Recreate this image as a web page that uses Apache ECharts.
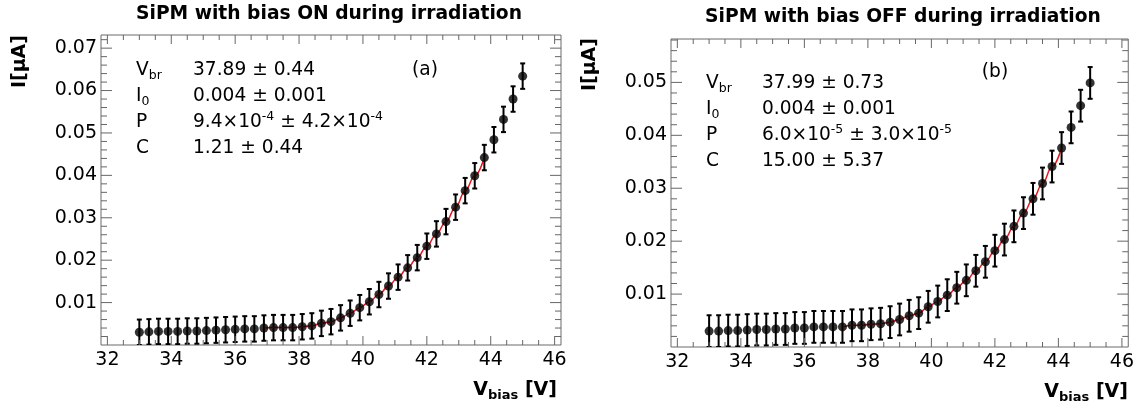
<!DOCTYPE html>
<html><head><meta charset="utf-8">
<script src="https://cdn.jsdelivr.net/npm/echarts@6/dist/echarts.min.js"></script>
<style>html,body{margin:0;padding:0;background:#fff}#c{width:1137px;height:409px}</style>
</head><body><div id="c"></div>
<script>
// ---------- data ----------
const vbias = [33.0,33.3,33.6,33.9,34.2,34.5,34.8,35.1,35.4,35.7,36.0,36.3,36.6,36.9,37.2,37.5,37.8,38.1,38.4,38.7,
  39.0,39.3,39.6,39.9,40.2,40.5,40.8,41.1,41.4,41.7,42.0,42.3,42.6,42.9,43.2,43.5,43.8,44.1,44.4,44.7,45.0];
const currentOn = [0.0030,0.0031,0.0032,0.0032,0.0032,0.0033,0.0033,0.0034,0.0035,0.0036,0.0037,0.0038,0.0038,0.0040,0.0041,
  0.0041,0.0041,0.0043,0.0045,0.0051,0.0055,0.0064,0.0075,0.0088,0.0102,0.0119,0.0139,0.0160,0.0182,0.0206,
  0.0233,0.0262,0.0291,0.0325,0.0364,0.0399,0.0442,0.0484,0.0532,0.0580,0.0634];
const currentOff = [0.0030,0.0030,0.0031,0.0031,0.0032,0.0033,0.0033,0.0034,0.0034,0.0036,0.0036,0.0038,0.0038,0.0038,0.0038,
  0.0041,0.0041,0.0043,0.0044,0.0047,0.0052,0.0059,0.0064,0.0076,0.0086,0.0098,0.0112,0.0126,0.0144,0.0161,
  0.0182,0.0203,0.0228,0.0253,0.0280,0.0309,0.0341,0.0376,0.0415,0.0456,0.0499];
const errOn = 0.003;
const errOff = 0.003;
const fitRangeOn = [13, 36];   // index range of points covered by the red fit
const fitRangeOff = [14, 37];
const xTickLabels = [32,34,36,38,40,42,44,46];
const yTickLabelsOn = [0.01,0.02,0.03,0.04,0.05,0.06,0.07];
const yTickLabelsOff = [0.01,0.02,0.03,0.04,0.05];
const titles = ['SiPM with bias ON during irradiation','SiPM with bias OFF during irradiation'];
const statsOn = [['V{sub|br}','37.89 ± 0.44'],['I{sub|0}','0.004 ± 0.001'],['P','9.4×10{sup|-4} ± 4.2×10{sup|-4}'],['C','1.21 ± 0.44']];
const statsOff = [['V{sub|br}','37.99 ± 0.73'],['I{sub|0}','0.004 ± 0.001'],['P','6.0×10{sup|-5} ± 3.0×10{sup|-5}'],['C','15.00 ± 5.37']];
const tags = ['(a)','(b)'];

// ---------- layout ----------
const FONT = '"DejaVu Sans", sans-serif';
const X_MIN = 31.8, X_MAX = 46.2;
const panels = [
  {grid:{left:101,top:35,width:460,height:310}, yMax:0.0731, yTicks:yTickLabelsOn, y:currentOn, err:errOn, fit:fitRangeOn,
   stats:statsOn, statX:136, valX:193, rowY:[70,96,122,148], tag:tags[0], tagX:425, tagY:70, titleX:329, titleY:14,
   yTitleX:20, yTitleY:35, xTitleX:557, xTitleY:390},
  {grid:{left:671,top:39,width:458,height:308}, yMax:0.0582, yTicks:yTickLabelsOff, y:currentOff, err:errOff, fit:fitRangeOff,
   stats:statsOff, statX:706, valX:762, rowY:[83,109,135,161], tag:tags[1], tagX:995, tagY:72, titleX:903, titleY:17,
   yTitleX:590, yTitleY:38, xTitleX:1128, xTitleY:392}
];

function tickItems(p){
  const items = [];
  xTickLabels.forEach(v => items.push([v, 1, 0]));
  for (let k = 0; k < xTickLabels.length - 1; k++) {
    for (let j = 1; j < 4; j++) items.push([xTickLabels[k] + j * 0.5, 0, 0]);
  }
  p.yTicks.forEach(v => items.push([v, 1, 1]));
  for (let k = 1; k * 0.002 < p.yMax; k++) {
    const v = +(k * 0.002).toFixed(4);
    if (Math.abs(v / 0.01 - Math.round(v / 0.01)) > 1e-6) items.push([v, 0, 1]);
  }
  return items;
}

const grids = [], xAxes = [], yAxes = [], series = [], graphics = [];
panels.forEach((p, i) => {
  grids.push(Object.assign({show:true, borderColor:'#6a6a6a', borderWidth:1, backgroundColor:'#fff'}, p.grid));
  xAxes.push({type:'value', gridIndex:i, min:X_MIN, max:X_MAX,
    axisLine:{show:false}, axisTick:{show:false}, splitLine:{show:false},
    axisLabel:{customValues:xTickLabels, color:'#000', fontSize:19, fontFamily:FONT, margin:6,
      formatter: v => String(Math.round(v))}});
  yAxes.push({type:'value', gridIndex:i, min:0, max:p.yMax,
    axisLine:{show:false}, axisTick:{show:false}, splitLine:{show:false},
    axisLabel:{customValues:p.yTicks, color:'#000', fontSize:19, fontFamily:FONT, margin:4,
      formatter: v => v.toFixed(2)}});
  const pts = vbias.map((x, k) => [x, p.y[k], p.err]);
  series.push({type:'custom', xAxisIndex:i, yAxisIndex:i, clip:true, z:2, silent:true,
    data: pts,
    renderItem: (params, api) => {
      const x = api.value(0), y = api.value(1), e = api.value(2);
      const t = api.coord([x, y + e]), b = api.coord([x, Math.max(y - e, 0)]);
      const c = 2.5, st = {stroke:'#000', lineWidth:2};
      return {type:'group', children:[
        {type:'line', shape:{x1:t[0], y1:t[1], x2:b[0], y2:b[1]}, style:st},
        {type:'line', shape:{x1:t[0]-c, y1:t[1], x2:t[0]+c, y2:t[1]}, style:st},
        {type:'line', shape:{x1:b[0]-c, y1:b[1], x2:b[0]+c, y2:b[1]}, style:st}
      ]};
    }});
  series.push({type:'line', xAxisIndex:i, yAxisIndex:i, z:3, silent:true, showSymbol:false, smooth:0.4, smoothMonotone:'x',
    lineStyle:{color:'#e8161b', width:1.5},
    data: vbias.slice(p.fit[0], p.fit[1] + 1).map((x, k) => [x, p.y[p.fit[0] + k]])});
  series.push({type:'scatter', xAxisIndex:i, yAxisIndex:i, z:4, silent:true, symbolSize:9,
    itemStyle:{color:'#000'}, data: vbias.map((x, k) => [x, p.y[k]])});
  series.push({type:'custom', xAxisIndex:i, yAxisIndex:i, z:5, silent:true, data: tickItems(p),
    renderItem: (params, api) => {
      const v = api.value(0), major = api.value(1), kind = api.value(2);
      const st = {stroke:'#666', lineWidth:1};
      if (kind === 0) {
        const len = major ? 9 : 5;
        const b = api.coord([v, 0]), t = api.coord([v, p.yMax]);
        return {type:'group', children:[
          {type:'line', shape:{x1:b[0], y1:b[1], x2:b[0], y2:b[1]-len}, style:st},
          {type:'line', shape:{x1:t[0], y1:t[1], x2:t[0], y2:t[1]+len}, style:st}]};
      }
      const len = major ? 11 : 6;
      const l = api.coord([X_MIN, v]), r = api.coord([X_MAX, v]);
      return {type:'group', children:[
        {type:'line', shape:{x1:l[0], y1:l[1], x2:l[0]+len, y2:l[1]}, style:st},
        {type:'line', shape:{x1:r[0], y1:r[1], x2:r[0]-len, y2:r[1]}, style:st}]};
    }});

  // titles and texts
  graphics.push({type:'text', x:p.titleX, y:p.titleY, style:{text:titles[i], fill:'#000',
    font:'bold 18.7px ' + FONT, textAlign:'center', textVerticalAlign:'middle'}});
  graphics.push({type:'text', x:p.yTitleX, y:p.yTitleY, rotation:Math.PI/2, style:{text:'I[μA]', fill:'#000',
    font:'bold 19px ' + FONT, textAlign:'right', textVerticalAlign:'middle'}});
  graphics.push({type:'text', x:p.xTitleX, y:p.xTitleY, style:{text:'{m|V}{s|bias}{m| [V]}', textAlign:'right', textVerticalAlign:'middle',
    rich:{m:{fontSize:19, fontWeight:'bold', fontFamily:FONT, lineHeight:24, fill:'#000'},
          s:{fontSize:13, fontWeight:'bold', fontFamily:FONT, lineHeight:13, verticalAlign:'bottom', fill:'#000'}}}});
  const rich = {
    n:{fontSize:18.6, fontFamily:FONT, lineHeight:24, fill:'#000'},
    sub:{fontSize:12.5, fontFamily:FONT, lineHeight:12, verticalAlign:'bottom', fill:'#000'},
    sup:{fontSize:12.5, fontFamily:FONT, lineHeight:12, verticalAlign:'top', fill:'#000'}
  };
  const wrap = s => s.split(/(\{su[bp]\|[^}]*\})/).filter(t => t).map(t => t.startsWith('{') ? t : '{n|' + t + '}').join('');
  p.stats.forEach((row, k) => {
    graphics.push({type:'text', x:p.statX, y:p.rowY[k], style:{text:wrap(row[0]), rich, textVerticalAlign:'middle'}});
    graphics.push({type:'text', x:p.valX, y:p.rowY[k], style:{text:wrap(row[1]), rich, textVerticalAlign:'middle'}});
  });
  graphics.push({type:'text', x:p.tagX, y:p.tagY, style:{text:p.tag, fill:'#000', font:'18.6px ' + FONT,
    textAlign:'center', textVerticalAlign:'middle'}});
});

const chart = echarts.init(document.getElementById('c'), null, {renderer:'canvas'});
chart.setOption({animation:false, backgroundColor:'#fff', grid:grids, xAxis:xAxes, yAxis:yAxes, series, graphic:graphics});
</script></body></html>
